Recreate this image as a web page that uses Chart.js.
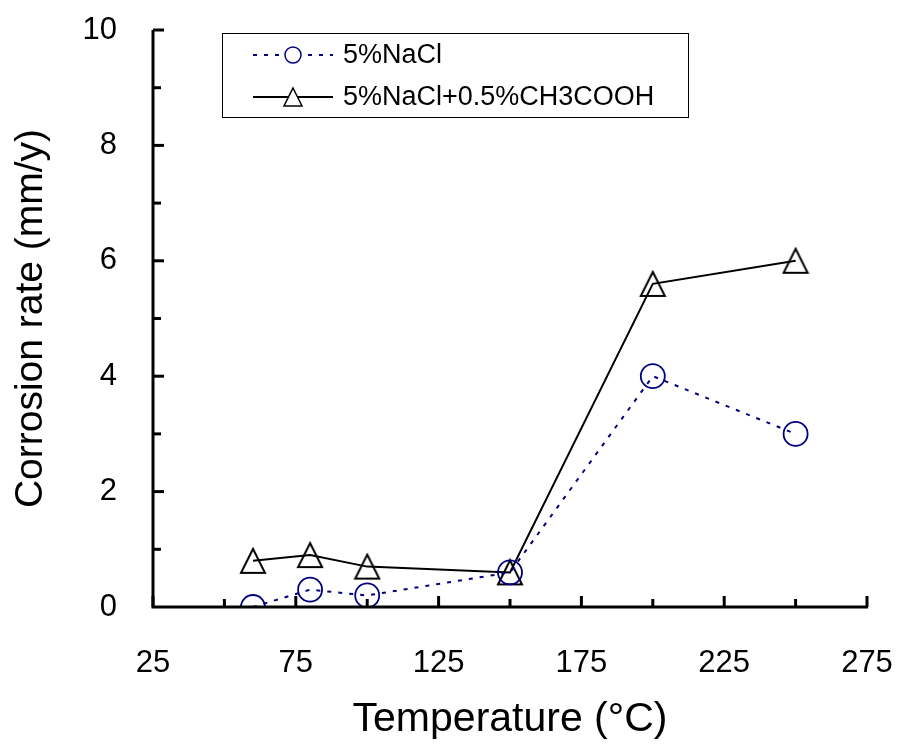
<!DOCTYPE html>
<html>
<head>
<meta charset="utf-8">
<script src="https://cdn.jsdelivr.net/npm/chart.js@4"></script>
<style>
  html, body { margin: 0; padding: 0; background: #fff; }
  #wrap { width: 899px; height: 744px; }
</style>
</head>
<body>
<div id="wrap"><canvas id="chart" width="899" height="744"></canvas></div>
<script>
// data
var temperature = [60, 80, 100, 150, 200, 250];
var naclRate = [0, 0.3, 0.2, 0.6, 4.0, 3.0];
var aceticRate = [0.8, 0.9, 0.7, 0.6, 5.6, 6.0];
var seriesLabels = ['5%NaCl', '5%NaCl+0.5%CH3COOH'];
var xTicks = [25, 75, 125, 175, 225, 275];
var yTicks = [0, 2, 4, 6, 8, 10];

var FONT = "'Liberation Sans', Arial, sans-serif";

// open triangle centred on its bounding box
function makeTriangle() {
    var c = document.createElement('canvas');
    c.width = 28; c.height = 28;
    var g = c.getContext('2d');
    g.strokeStyle = '#000';
    g.lineWidth = 2;
    g.beginPath();
    g.moveTo(14, 2);
    g.lineTo(26, 26);
    g.lineTo(2, 26);
    g.closePath();
    g.stroke();
    return c;
}
var tri = makeTriangle();

function pts(xs, ys) {
    return xs.map(function (x, i) { return { x: x, y: ys[i] }; });
}

// inward ticks, thick axes and the boxed legend
var decor = {
    id: 'decor',
    afterDraw: function (chart) {
        var ctx = chart.ctx;
        var xs = chart.scales.x, ys = chart.scales.y;
        var a = chart.chartArea;
        ctx.save();
        ctx.strokeStyle = '#000';
        ctx.lineWidth = 3;
        ctx.beginPath();
        ctx.moveTo(a.left, a.top);
        ctx.lineTo(a.left, a.bottom);
        ctx.lineTo(a.right + 1, a.bottom);
        ctx.stroke();
        for (var v = 25; v <= 275; v += 25) {
            var px = xs.getPixelForValue(v);
            var len = ((v - 25) % 50 === 0) ? 11 : 8;
            ctx.beginPath();
            ctx.moveTo(px, a.bottom);
            ctx.lineTo(px, a.bottom - len);
            ctx.stroke();
        }
        for (var w = 1; w <= 10; w++) {
            var py = ys.getPixelForValue(w);
            var l2 = (w % 2 === 0) ? 11 : 8;
            ctx.beginPath();
            ctx.moveTo(a.left, py);
            ctx.lineTo(a.left + l2, py);
            ctx.stroke();
        }

        // legend box
        var bx = 222, by = 33, bw = 466, bh = 84;
        ctx.lineWidth = 1;
        ctx.strokeRect(bx + 0.5, by + 0.5, bw, bh);
        ctx.font = '27px ' + FONT;
        ctx.textBaseline = 'middle';
        ctx.fillStyle = '#000';
        var rows = [55, 97];
        chart.data.datasets.forEach(function (ds, i) {
            var y = rows[i];
            ctx.save();
            ctx.strokeStyle = ds.borderColor;
            ctx.lineWidth = 2;
            ctx.setLineDash(ds.borderDash || []);
            ctx.beginPath();
            ctx.moveTo(253, y);
            ctx.lineTo(333, y);
            ctx.stroke();
            ctx.restore();
            if (i === 0) {
                ctx.save();
                ctx.fillStyle = '#fff';
                ctx.strokeStyle = ds.pointBorderColor;
                ctx.lineWidth = 1.5;
                ctx.beginPath();
                ctx.arc(293, y, 8, 0, Math.PI * 2);
                ctx.fill();
                ctx.stroke();
                ctx.restore();
            } else {
                ctx.save();
                ctx.fillStyle = '#fff';
                ctx.beginPath();
                ctx.moveTo(293, y - 9);
                ctx.lineTo(302, y + 9);
                ctx.lineTo(284, y + 9);
                ctx.closePath();
                ctx.fill();
                ctx.strokeStyle = '#000';
                ctx.lineWidth = 1.5;
                ctx.stroke();
                ctx.restore();
            }
            ctx.fillText(ds.label, 343, y + 1);
        });
        ctx.restore();
    }
};

new Chart(document.getElementById('chart').getContext('2d'), {
    type: 'line',
    data: {
        datasets: [{
            label: seriesLabels[0],
            data: pts(temperature, naclRate),
            borderColor: '#000080',
            borderWidth: 2,
            borderDash: [4, 7],
            pointStyle: 'circle',
            pointRadius: 12,
            pointBorderWidth: 1.8,
            pointBorderColor: '#000080',
            pointBackgroundColor: 'rgba(0,0,0,0)',
            fill: false,
            tension: 0
        }, {
            label: seriesLabels[1],
            data: pts(temperature, aceticRate),
            borderColor: '#000',
            borderWidth: 2,
            pointStyle: tri,
            pointRadius: 14,
            fill: false,
            tension: 0
        }]
    },
    options: {
        responsive: false,
        animation: false,
        layout: { padding: { top: 30, right: 32, left: 0, bottom: 0 } },
        plugins: {
            legend: { display: false },
            tooltip: { enabled: false }
        },
        scales: {
            x: {
                type: 'linear',
                min: 25,
                max: 275,
                afterBuildTicks: function (s) { s.ticks = xTicks.map(function (v) { return { value: v }; }); },
                afterFit: function (s) { s.height = 137; s.paddingLeft = 0; s.paddingRight = 0; },
                grid: { display: false },
                border: { display: false },
                ticks: { color: '#000', font: { family: FONT, size: 31 }, padding: 30, maxRotation: 0 },
                title: {
                    display: true,
                    text: 'Temperature (°C)',
                    color: '#000',
                    font: { family: FONT, size: 41 },
                    padding: { top: 4, bottom: 0 }
                }
            },
            y: {
                min: 0,
                max: 10,
                afterBuildTicks: function (s) { s.ticks = yTicks.map(function (v) { return { value: v }; }); },
                afterFit: function (s) { s.width = 153; s.paddingTop = 0; s.paddingBottom = 0; },
                grid: { display: false },
                border: { display: false },
                ticks: { color: '#000', font: { family: FONT, size: 31 }, padding: 28 },
                title: {
                    display: true,
                    text: 'Corrosion rate (mm/y)',
                    color: '#000',
                    font: { family: FONT, size: 39 },
                    padding: { top: 8, bottom: 0 }
                }
            }
        }
    },
    plugins: [decor]
});
</script>
</body>
</html>
